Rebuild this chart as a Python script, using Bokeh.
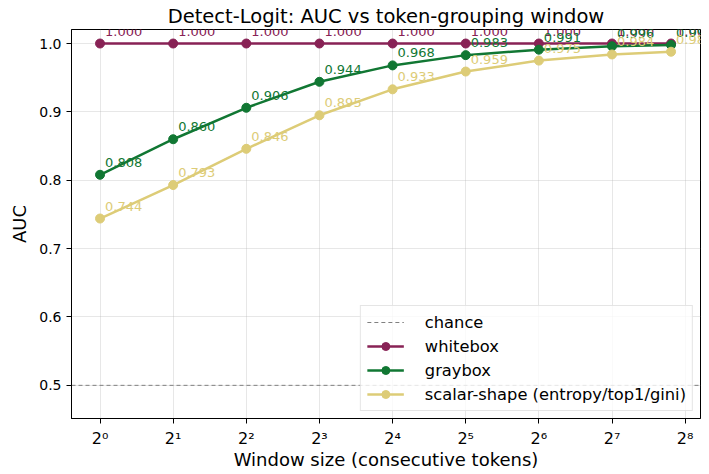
from bokeh.plotting import figure
from bokeh.models import (Range1d, FixedTicker, Legend, LegendItem, PrintfTickFormatter,
                          LabelSet, ColumnDataSource)
from bokeh.embed import file_html
from bokeh.resources import INLINE
from bokeh.core.properties import value

# ---- data ----
windows = [1, 2, 4, 8, 16, 32, 64, 128, 224]
whitebox = [1.000, 1.000, 1.000, 1.000, 1.000, 1.000, 1.000, 1.000, 1.000]
graybox = [0.808, 0.860, 0.906, 0.944, 0.968, 0.983, 0.991, 0.996, 0.998]
scalar_shape = [0.744, 0.793, 0.846, 0.895, 0.933, 0.959, 0.975, 0.984, 0.988]
chance = 0.5
x_ticks = [1, 2, 4, 8, 16, 32, 64, 128, 256]
x_tick_labels = ["2\u2070", "2\u00b9", "2\u00b2", "2\u00b3", "2\u2074", "2\u2075", "2\u2076", "2\u2077", "2\u2078"]
y_ticks = [0.5, 0.6, 0.7, 0.8, 0.9, 1.0]
x_lo, x_hi = 2 ** -0.39, 2 ** 8.21
y_lo, y_hi = 0.4515, 1.0205

FONT = "DejaVu Sans"
C_WHITE = "#882255"
C_GRAY = "#117733"
C_SCALAR = "#DDCC77"
C_CHANCE = "#808080"

p = figure(width=709, height=474, x_axis_type="log",
           x_range=Range1d(x_lo, x_hi), y_range=Range1d(y_lo, y_hi),
           output_backend="svg", toolbar_location=None,
           min_border_left=71, min_border_right=9, min_border_top=29, min_border_bottom=56,
           title="Detect-Logit: AUC vs token-grouping window")

p.title.align = "center"
p.title.text_font = FONT
p.title.text_font_style = "normal"
p.title.text_font_size = "19.5px"
p.title.text_color = "black"
p.title.standoff = 4
p.title.offset = 0

p.outline_line_color = "black"
p.outline_line_width = 1
p.outline_line_alpha = 1

for ax in (p.xaxis[0], p.yaxis[0]):
    ax.axis_label_text_font = FONT
    ax.axis_label_text_font_style = "normal"
    ax.axis_label_text_font_size = "18px"
    ax.axis_label_text_color = "black"
    ax.major_label_text_font = FONT
    ax.major_label_text_font_size = "14px"
    ax.major_label_text_color = "black"
    ax.axis_line_color = "black"
    ax.major_tick_line_color = "black"
    ax.major_tick_out = 5
    ax.major_tick_in = 0
    ax.minor_tick_line_color = None

p.xaxis[0].ticker = FixedTicker(ticks=x_ticks)
p.xaxis[0].major_label_overrides = {t: lab for t, lab in zip(x_ticks, x_tick_labels)}
p.xaxis[0].major_label_text_font_size = "16px"
p.xaxis[0].axis_label = "Window size (consecutive tokens)"
p.xaxis[0].axis_label_standoff = -2
p.yaxis[0].ticker = FixedTicker(ticks=y_ticks)
p.yaxis[0].formatter = PrintfTickFormatter(format="%.1f")
p.yaxis[0].axis_label = "AUC"
p.yaxis[0].axis_label_standoff = 6

p.xgrid.ticker = FixedTicker(ticks=x_ticks)
p.ygrid.ticker = FixedTicker(ticks=y_ticks)
for g in (p.xgrid[0], p.ygrid[0]):
    g.grid_line_color = "#b0b0b0"
    g.grid_line_alpha = 0.3
    g.grid_line_width = 1

# chance line across the full x range
chance_r = p.line(x=[x_lo, x_hi], y=[chance, chance], line_color=C_CHANCE,
                  line_dash="4 3", line_width=1)

items = [LegendItem(label="chance", renderers=[chance_r])]
for name, vals, col in (("whitebox", whitebox, C_WHITE),
                        ("graybox", graybox, C_GRAY),
                        ("scalar-shape (entropy/top1/gini)", scalar_shape, C_SCALAR)):
    src = ColumnDataSource(dict(x=windows, y=vals, t=[f"{v:.3f}" for v in vals]))
    lr = p.line("x", "y", source=src, line_color=col, line_width=2.5)
    sr = p.scatter("x", "y", source=src, size=9, fill_color=col, line_color=col)
    labels = LabelSet(x="x", y="y", text="t", source=src, x_offset=5, y_offset=8,
                      text_font=value(FONT), text_font_size=value("13px"),
                      text_color=value(col),
                      text_baseline=value("alphabetic"), text_align=value("left"))
    p.add_layout(labels)
    items.append(LegendItem(label=name, renderers=[lr, sr]))

legend = Legend(items=items, location="bottom_right")
legend.label_text_font = FONT
legend.label_text_font_size = "16.3px"
legend.label_text_color = "black"
legend.glyph_width = 37
legend.glyph_height = 20
legend.label_height = 20
legend.label_standoff = 21
legend.spacing = 4
legend.padding = 6
legend.margin = 7
legend.border_line_color = "#cccccc"
legend.border_line_width = 1
legend.background_fill_alpha = 0.8
p.add_layout(legend)

open("out.html", "w").write(file_html(p, INLINE))
